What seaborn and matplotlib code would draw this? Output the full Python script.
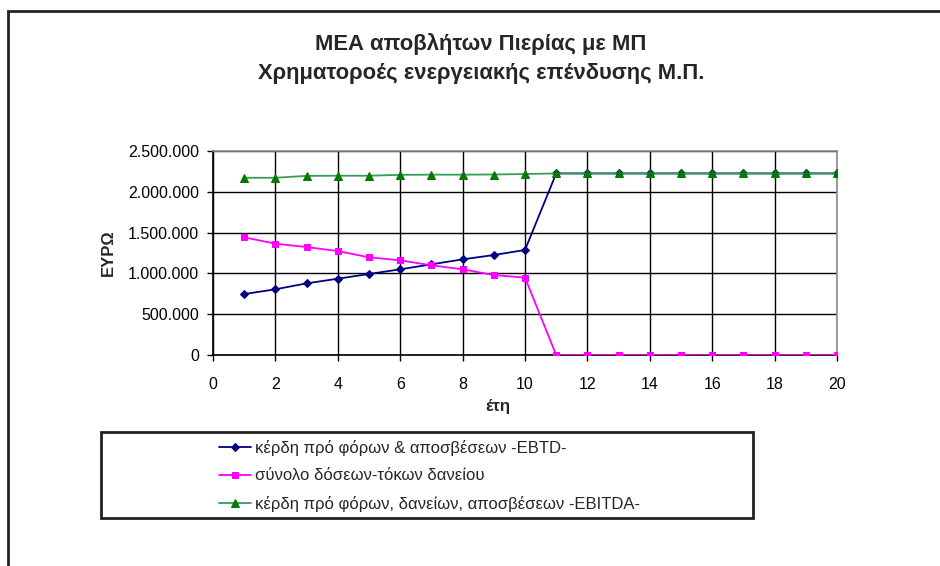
import matplotlib
matplotlib.use("Agg")
import matplotlib.pyplot as plt
from matplotlib.patches import Rectangle
from matplotlib.ticker import FuncFormatter, MultipleLocator
import pandas as pd
import seaborn as sns

years = list(range(1, 21))
ebtd = [747000, 805000, 878000, 935000, 993000, 1050000, 1111000, 1172000,
        1225000, 1287000] + [2225000] * 10
loan_service = [1442000, 1364000, 1323000, 1274000, 1197000, 1160000, 1099000,
                1050000, 980000, 948000] + [0] * 10
ebitda = [2172000, 2172000, 2195000, 2197000, 2197000, 2208000, 2210000,
          2210000, 2212000, 2218000] + [2225000] * 10

labels = ["κέρδη πρό φόρων & αποσβέσεων -EBTD-",
          "σύνολο δόσεων-τόκων δανείου",
          "κέρδη πρό φόρων, δανείων, αποσβέσεων -EBITDA-"]
title_lines = ["ΜΕΑ αποβλήτων Πιερίας με ΜΠ",
               "Χρηματοροές ενεργειακής επένδυσης Μ.Π."]
x_label = "έτη"
y_label = "ΕΥΡΩ"

sns.set_theme(style="white")
plt.rcParams["font.family"] = ["Liberation Sans", "DejaVu Sans"]

W, H = 940, 566
fig = plt.figure(figsize=(W / 100, H / 100), dpi=100)
fig.patch.set_facecolor("white")

# plot area in pixel coordinates
px_l, px_r, px_t, px_b = 213, 837, 151, 355
ax = fig.add_axes([px_l / W, 1 - px_b / H, (px_r - px_l) / W, (px_b - px_t) / H])

df = pd.DataFrame({"year": years, "ebtd": ebtd, "loan": loan_service, "ebitda": ebitda})

styles = [
    ("ebtd", labels[0], "#000080", "#000080", "D", 4.5),
    ("loan", labels[1], "#FF00FF", "#FF00FF", "s", 5.0),
    ("ebitda", labels[2], "#3A9A5C", "#007A00", "^", 5.5),
]
for col, lab, lc, mc, mk, ms in styles:
    sns.lineplot(data=df, x="year", y=col, ax=ax, label=lab, color=lc,
                 marker=mk, markersize=ms, markerfacecolor=mc,
                 markeredgecolor=mc, linewidth=1.3, zorder=3)

ax.set_xlim(0, 20)
ax.set_ylim(0, 2500000)
ax.xaxis.set_major_locator(MultipleLocator(2))
ax.yaxis.set_major_locator(MultipleLocator(500000))
ax.yaxis.set_major_formatter(FuncFormatter(lambda v, p: f"{v:,.0f}".replace(",", ".")))
ax.grid(True, color="black", linewidth=1.0)
ax.set_axisbelow(True)
for side in ("left", "bottom"):
    ax.spines[side].set_color("black")
    ax.spines[side].set_linewidth(1.2)
for side in ("top", "right"):
    ax.spines[side].set_color("#8C8C8C")
    ax.spines[side].set_linewidth(1.2)
ax.tick_params(axis="both", which="major", length=4, width=1.0, color="black",
               labelsize=11.5, labelcolor="black", direction="out",
               bottom=True, left=True)
ax.tick_params(axis="x", pad=12)
ax.tick_params(axis="y", pad=6)
ax.set_xlabel(x_label, fontsize=12, fontweight="bold")
ax.xaxis.set_label_coords((498 - px_l) / (px_r - px_l), (px_b - 407) / (px_b - px_t))
ax.xaxis.label.set_va("center")
ax.set_ylabel(y_label, fontsize=12, fontweight="bold")
ax.yaxis.set_label_coords((108 - px_l) / (px_r - px_l), 0.5)
ax.yaxis.label.set_va("center")

fig.text(481 / W, 1 - 44 / H, title_lines[0], ha="center", va="center",
         fontsize=15.8, fontweight="bold")
fig.text(481 / W, 1 - 73 / H, title_lines[1], ha="center", va="center",
         fontsize=15.8, fontweight="bold")

# legend inside its own framed box
handles, lbls = ax.get_legend_handles_labels()
ax.get_legend().remove()
fig.patches.append(Rectangle((101 / W, 1 - 518 / H), (753 - 101) / W, (518 - 432) / H,
                             transform=fig.transFigure, fill=False,
                             edgecolor="#222222", linewidth=2.0))
fig.legend(handles, lbls, loc="upper left",
           bbox_to_anchor=(219 / W, 1 - 440 / H), frameon=False,
           fontsize=12, handlelength=1.9, handletextpad=0.25,
           labelspacing=0.74, borderaxespad=0, borderpad=0)

# outer chart border
fig.patches.append(Rectangle((8 / W, -0.05), 1.05, 1 - 11 / H + 0.05,
                             transform=fig.transFigure, fill=False,
                             edgecolor="#222222", linewidth=2.0))

fig.savefig("out.png", dpi=100, facecolor="white")
